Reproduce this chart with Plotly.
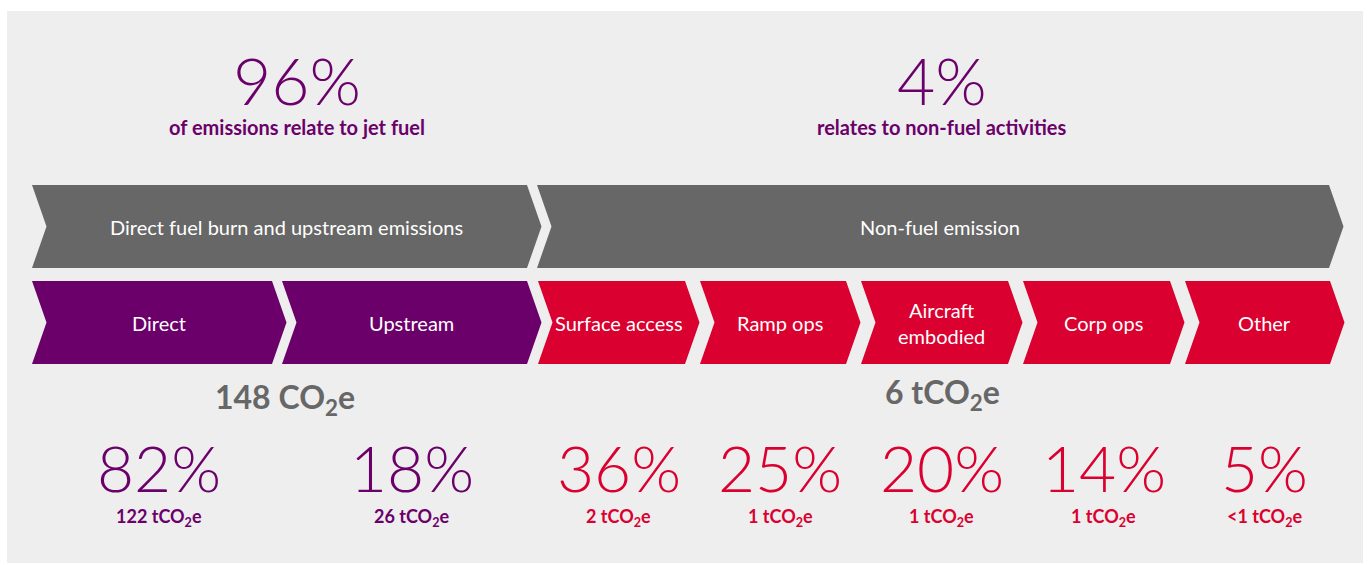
import plotly.graph_objects as go

# ---------------- data ----------------
group_labels = ["Direct fuel burn and upstream emissions", "Non-fuel emission"]
group_share = ["96%", "4%"]
group_caption = ["of emissions relate to jet fuel", "relates to non-fuel activities"]
group_total = ["148 CO<sub>2</sub>e", "6 tCO<sub>2</sub>e"]

categories = ["Direct", "Upstream", "Surface access", "Ramp ops",
              "Aircraft<br>embodied", "Corp ops", "Other"]
category_group = [0, 0, 1, 1, 1, 1, 1]
shares = [82, 18, 36, 25, 20, 14, 5]
tonnes = ["122", "26", "2", "1", "1", "1", "<1"]

# ---------------- layout / style ----------------
W, H = 1372, 565
BG = "#EEEEEE"
PURPLE = "#6B006B"
RED = "#DA002F"
GREY = "#676767"
FONT = "Lato"

group_colors = [PURPLE, RED]
top_edges = [(32, 527), (537, 1329)]
top_y = (185, 268)
bottom_edges = [(32, 272), (282, 527), (538, 685), (700, 846),
                (861, 1008), (1023, 1170), (1185, 1330)]
bottom_y = (281, 364)
DEPTH = 14.5
header_x = [297, 942]
header_y = 79
caption_y = 127
total_x = [285, 942]
total_y = [399, 394]
pct_y = 467
ton_y = 517


def chevron(xl, xr, yt, yb, d):
    ym = (yt + yb) / 2
    return (f"M {xl},{yt} L {xr},{yt} L {xr + d},{ym} L {xr},{yb} "
            f"L {xl},{yb} L {xl + d},{ym} Z")


fig = go.Figure()
# invisible trace to establish axes
fig.add_trace(go.Scatter(x=[0, W], y=[0, H], mode="markers",
                         marker=dict(opacity=0), hoverinfo="skip",
                         showlegend=False))

shapes = [dict(type="rect", xref="x", yref="y", x0=7, x1=1363, y0=11, y1=563,
               fillcolor=BG, line=dict(width=0), layer="below")]
annotations = []

# top row (groups)
for i, (xl, xr) in enumerate(top_edges):
    shapes.append(dict(type="path", xref="x", yref="y",
                       path=chevron(xl, xr, top_y[0], top_y[1], DEPTH),
                       fillcolor=GREY, line=dict(width=0)))
    cx = (xl + xr) / 2 + DEPTH / 2
    annotations.append(dict(x=cx, y=(top_y[0] + top_y[1]) / 2, text=group_labels[i],
                            font=dict(family=FONT, size=20, color="white")))
    annotations.append(dict(x=header_x[i], y=header_y, text=group_share[i],
                            font=dict(family=FONT, size=66, color=PURPLE, weight=300)))
    annotations.append(dict(x=header_x[i], y=caption_y, text=group_caption[i],
                            font=dict(family=FONT, size=20, color=PURPLE, weight=700)))
    annotations.append(dict(x=total_x[i], y=total_y[i], text=group_total[i],
                            font=dict(family=FONT, size=32, color=GREY, weight=700)))

# bottom row (categories)
for j, cat in enumerate(categories):
    xl, xr = bottom_edges[j]
    col = group_colors[category_group[j]]
    shapes.append(dict(type="path", xref="x", yref="y",
                       path=chevron(xl, xr, bottom_y[0], bottom_y[1], DEPTH),
                       fillcolor=col, line=dict(width=0)))
    cx = (xl + xr) / 2 + DEPTH / 2
    annotations.append(dict(x=cx, y=(bottom_y[0] + bottom_y[1]) / 2, text=cat,
                            font=dict(family=FONT, size=20, color="white")))
    annotations.append(dict(x=cx, y=pct_y, text=f"{shares[j]}%",
                            font=dict(family=FONT, size=64, color=col, weight=300)))
    annotations.append(dict(x=cx, y=ton_y, text=f"{tonnes[j]} tCO<sub>2</sub>e",
                            font=dict(family=FONT, size=18, color=col, weight=700)))

for a in annotations:
    a.update(xref="x", yref="y", showarrow=False, xanchor="center", yanchor="middle")

fig.update_layout(
    width=W, height=H, margin=dict(l=0, r=0, t=0, b=0),
    paper_bgcolor="white", plot_bgcolor="white",
    xaxis=dict(range=[0, W], visible=False, fixedrange=True),
    yaxis=dict(range=[H, 0], visible=False, fixedrange=True),
    shapes=shapes, annotations=annotations, showlegend=False,
)
fig.write_html("out.html", config={"displayModeBar": False},
               post_script="document.body.style.margin='0';document.body.style.overflow='hidden';")
